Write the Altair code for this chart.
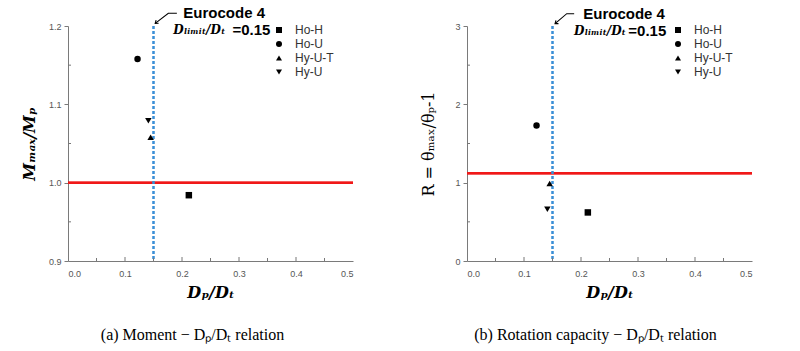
import altair as alt
import pandas as pd

# ---------------- data ----------------
series = ["Ho-H", "Ho-U", "Hy-U-T", "Hy-U"]
shapes = ["square", "circle", "triangle-up", "triangle-down"]
dp_dt = [0.212, 0.122, 0.145, 0.141]
moment_ratio = [0.984, 1.158, 1.058, 1.079]
rotation_R = [0.62, 1.73, 0.99, 0.66]

eurocode_limit = 0.15
moment_ref = 1.0
rotation_ref = 1.12

x_major = [0.0, 0.1, 0.2, 0.3, 0.4, 0.5]
x_minor = [0.05, 0.15, 0.25, 0.35, 0.45]
m_major = [0.9, 1.0, 1.1, 1.2]
m_minor = [0.95, 1.05, 1.15]
r_major = [0, 1, 2, 3]
r_minor = [0.5, 1.5, 2.5]

# annotation anchors (data units)
m_arrow_x = [0.191, 0.176, 0.153]
m_arrow_y = [1.2162, 1.2162, 1.2034]
m_euro = (0.2023, 1.2162)
m_dlim = (0.1847, 1.1945)
m_eq = (0.2884, 1.1945)

r_arrow_x = [0.188, 0.175, 0.1545]
r_arrow_y = [3.157, 3.157, 3.03]
r_euro = (0.204, 3.157)
r_dlim = (0.1877, 2.94)
r_eq = (0.283, 2.94)

W, H = 285, 235
BLUE = "#3b8fd6"
RED = "#f01818"
ARROW = "M -1 -0.75 L 0 0 L -1 0.75"


def panel(yvals, ymajor, yminor, ydomain, yref, ytitle, ytitle_style,
          arrow_x, arrow_y, euro, dlim, eq, caption, cap_dx):
    df = pd.DataFrame({"x": dp_dt, "y": yvals, "series": series})
    xs = alt.Scale(domain=[0, 0.5], nice=False, zero=False)
    ys = alt.Scale(domain=ydomain, nice=False, zero=False)

    xax = alt.Axis(values=x_major, format=".1f", title="Dₚ/Dₜ", ticks=False,
                   tickSize=0, labelPadding=8, titleY=31, titleBaseline="middle",
                   titleX=W / 2, titleFontSize=16)
    yax = alt.Axis(values=ymajor, format=".1f" if ydomain[1] < 2 else "d",
                   title=ytitle, tickSize=4, labelPadding=3,
                   titleX=-39, titleY=H / 2, titleAngle=270,
                   titleAlign="center", titleBaseline="middle",
                   titleFontSize=16,
                   titleFontWeight=ytitle_style[0], titleFontStyle=ytitle_style[1])

    pts = alt.Chart(df).mark_point(filled=True, size=42, color="black", opacity=1).encode(
        x=alt.X("x:Q", scale=xs, axis=xax),
        y=alt.Y("y:Q", scale=ys, axis=yax),
        shape=alt.Shape("series:N",
                        scale=alt.Scale(domain=series, range=shapes),
                        legend=alt.Legend(title=None, orient="none",
                                          legendX=205, legendY=-2,
                                          symbolSize=36, symbolFillColor="black",
                                          symbolStrokeWidth=0,
                                          labelFont="Liberation Sans",
                                          labelFontSize=12, labelColor="#333",
                                          labelOffset=10, rowPadding=2,
                                          padding=0)),
    )

    red = alt.Chart(df).mark_rule(color=RED, strokeWidth=2).encode(
        y=alt.datum(yref))
    blue = alt.Chart(df).mark_rule(color=BLUE, strokeWidth=1.6,
                                   strokeDash=[3, 2]).encode(
        x=alt.datum(eurocode_limit))

    xminor_t = alt.Chart(pd.DataFrame({"v": x_minor})).mark_rule(
        color="#777", strokeWidth=1).encode(
        x=alt.X("v:Q", scale=xs), y=alt.value(H), y2=alt.value(H - 3))
    xmajor_t = alt.Chart(pd.DataFrame({"v": x_major[1:-1]})).mark_rule(
        color="#777", strokeWidth=1).encode(
        x=alt.X("v:Q", scale=xs), y=alt.value(H), y2=alt.value(H - 4))
    yminor_t = alt.Chart(pd.DataFrame({"v": yminor})).mark_rule(
        color="#777", strokeWidth=1).encode(
        y=alt.Y("v:Q", scale=ys), x=alt.value(0), x2=alt.value(3))

    adf = pd.DataFrame({"x": arrow_x, "y": arrow_y, "o": [0, 1, 2]})
    arrow = alt.Chart(adf).mark_line(color="black", strokeWidth=1.1).encode(
        x=alt.X("x:Q", scale=xs), y=alt.Y("y:Q", scale=ys), order="o:Q")
    head = alt.Chart(adf.iloc[[2]]).mark_point(
        shape=ARROW, filled=False, color="black", strokeWidth=1.1,
        size=30, angle=142, opacity=1).encode(
        x=alt.X("x:Q", scale=xs), y=alt.Y("y:Q", scale=ys))

    def txt(pos, s, font, size, style="normal", weight="bold"):
        return alt.Chart(pd.DataFrame({"x": [pos[0]], "y": [pos[1]], "t": [s]})).mark_text(
            align="left", baseline="middle", font=font, fontSize=size,
            fontStyle=style, fontWeight=weight, color="black").encode(
            x=alt.X("x:Q", scale=xs), y=alt.Y("y:Q", scale=ys), text="t:N")

    t1 = txt(euro, "Eurocode 4", "Liberation Sans", 15)
    t2 = txt(dlim, "Dₗᵢₘᵢₜ/Dₜ", "DejaVu Serif", 12, "italic")
    t3 = txt(eq, "=0.15", "Liberation Sans", 15)

    return alt.layer(red, blue, xminor_t, xmajor_t, yminor_t, pts,
                     arrow, head, t1, t2, t3).properties(
        width=W, height=H,
        title=alt.TitleParams(caption, orient="bottom", anchor="middle",
                              dx=cap_dx, offset=27, font="Liberation Serif",
                              fontSize=16, fontWeight="normal", color="black"))


left = panel(moment_ratio, m_major, m_minor, [0.9, 1.2], moment_ref,
             "Mₘₐₓ/Mₚ", ("bold", "italic"), m_arrow_x, m_arrow_y,
             m_euro, m_dlim, m_eq, "(a) Moment − Dₚ/Dₜ relation", -18)
right = panel(rotation_R, r_major, r_minor, [0, 3], rotation_ref,
              "R = θₘₐₓ/θₚ-1", ("normal", "normal"), r_arrow_x, r_arrow_y,
              r_euro, r_dlim, r_eq, "(b) Rotation capacity − Dₚ/Dₜ relation", -14)

chart = alt.hconcat(left, right, spacing=114, bounds="flush").resolve_scale(
    x="independent", y="independent", shape="independent"
).resolve_legend(shape="independent").properties(
    padding={"left": 21, "top": 6, "right": 5, "bottom": 5}
).configure_view(stroke=None).configure_axis(
    grid=False, domainColor="#7a7a7a", tickColor="#7a7a7a",
    labelFont="Liberation Sans", labelFontSize=9, labelColor="#555",
    titleFont="DejaVu Serif", titleFontSize=15, titleFontWeight="bold",
    titleFontStyle="italic", titleColor="black"
)

chart.save("out.html", embed_options={"renderer": "svg", "actions": False})
